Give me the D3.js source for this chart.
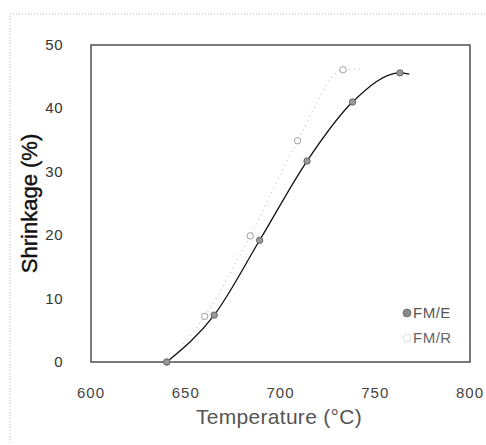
<!DOCTYPE html>
<html>
<head>
<meta charset="utf-8">
<script src="https://cdn.jsdelivr.net/npm/d3@7"></script>
<style>
  body { margin: 0; background: #fff; }
  svg { font-family: "Liberation Sans", Arial, sans-serif; }
</style>
</head>
<body>
<svg id="chart"></svg>
<script>
// FM/E : solid line, filled markers
var tempE = [640, 665, 689, 714, 738, 763];
var shrinkE = [0, 7.4, 19.2, 31.7, 41.0, 45.6];
// FM/R : dotted line, open markers
var tempR = [640, 660, 684, 709, 733];
var shrinkR = [0, 7.2, 19.9, 34.9, 46.1];
// where each fitted line stops
var endE = [768, 45.4];
var endR = [742, 46.2];

var xTicks = [600, 650, 700, 750, 800];
var yTicks = [0, 10, 20, 30, 40, 50];

var screen = {width: 486, height: 445};
var margins = {top: 45, right: 16, bottom: 83, left: 91};

var svg = d3.select("#chart")
  .attr("width", screen.width)
  .attr("height", screen.height);

// faint dotted frame of the scanned figure
svg.append("rect")
  .attr("x", 10).attr("y", 14)
  .attr("width", 490).attr("height", 440)
  .style("fill", "none")
  .style("stroke", "#bbb")
  .style("stroke-dasharray", "1,2");

var x = d3.scaleLinear().domain([600, 800]).range([margins.left, screen.width - margins.right]);
var y = d3.scaleLinear().domain([0, 50]).range([screen.height - margins.bottom, margins.top]);

// plot box
svg.append("rect")
  .attr("x", x(600)).attr("y", y(50))
  .attr("width", x(800) - x(600)).attr("height", y(0) - y(50))
  .style("fill", "none")
  .style("stroke", "#333")
  .style("stroke-width", 1.3);

// tick labels
svg.append("g").selectAll("text").data(yTicks).enter()
  .append("text")
  .attr("x", 63)
  .attr("y", function(d){ return y(d) + 5; })
  .attr("text-anchor", "end")
  .style("font-size", "15px")
  .style("letter-spacing", "0.5px")
  .style("fill", "#333")
  .text(function(d){ return d; });

svg.append("g").selectAll("text").data(xTicks).enter()
  .append("text")
  .attr("x", function(d){ return x(d); })
  .attr("y", 398)
  .attr("text-anchor", "middle")
  .style("font-size", "15px")
  .style("letter-spacing", "1px")
  .style("fill", "#444")
  .text(function(d){ return d; });

// axis titles
svg.append("text")
  .attr("transform", "translate(37," + ((y(0) + y(50)) / 2) + ") rotate(-90)")
  .attr("text-anchor", "middle")
  .style("font-size", "22px")
  .style("fill", "#111")
  .style("stroke", "#111")
  .style("stroke-width", 0.4)
  .text("Shrinkage (%)");

svg.append("text")
  .attr("x", 279).attr("y", 424)
  .attr("text-anchor", "middle")
  .style("font-size", "21px")
  .style("letter-spacing", "0.3px")
  .style("fill", "#555")
  .text("Temperature (°C)");

var line = d3.line()
  .x(function(d){ return x(d[0]); })
  .y(function(d){ return y(d[1]); })
  .curve(d3.curveMonotoneX);

var ptsE = tempE.map(function(t, i){ return [t, shrinkE[i]]; });
var ptsR = tempR.map(function(t, i){ return [t, shrinkR[i]]; });

svg.append("path")
  .attr("d", line(ptsR.concat([endR])))
  .style("fill", "none")
  .style("stroke", "#aaa")
  .style("stroke-width", 1)
  .style("stroke-dasharray", "1,4");

svg.append("path")
  .attr("d", line(ptsE.concat([endE])))
  .style("fill", "none")
  .style("stroke", "#111")
  .style("stroke-width", 1.3);

svg.append("g").selectAll("circle").data(ptsR).enter()
  .append("circle")
  .attr("cx", function(d){ return x(d[0]); })
  .attr("cy", function(d){ return y(d[1]); })
  .attr("r", 3.2)
  .style("fill", "#fff")
  .style("stroke", "#888")
  .style("stroke-width", 0.8);

svg.append("g").selectAll("circle").data(ptsE).enter()
  .append("circle")
  .attr("cx", function(d){ return x(d[0]); })
  .attr("cy", function(d){ return y(d[1]); })
  .attr("r", 3.2)
  .style("fill", "#999")
  .style("stroke", "#555")
  .style("stroke-width", 0.8);

// legend
var legend = svg.append("g");
legend.append("circle").attr("cx", 407).attr("cy", 313).attr("r", 4)
  .style("fill", "#888").style("stroke", "#555").style("stroke-width", 0.6);
legend.append("text").attr("x", 413).attr("y", 318)
  .style("font-size", "15px").style("letter-spacing", "0.5px")
  .style("fill", "#555").text("FM/E");
legend.append("circle").attr("cx", 407).attr("cy", 338).attr("r", 4)
  .style("fill", "#fff").style("stroke", "#ccc").style("stroke-width", 0.6);
legend.append("text").attr("x", 413).attr("y", 343)
  .style("font-size", "15px").style("letter-spacing", "0.5px")
  .style("fill", "#666").text("FM/R");
</script>
</body>
</html>
